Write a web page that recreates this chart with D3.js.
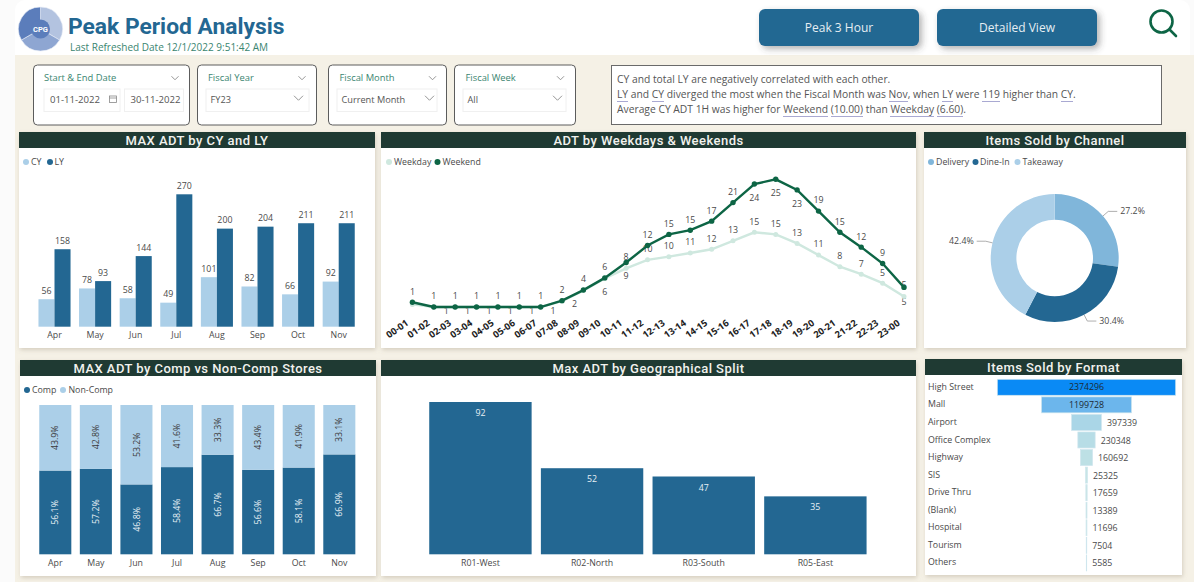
<!DOCTYPE html>
<html>
<head>
<meta charset="utf-8">
<title>Peak Period Analysis</title>
<script src="https://cdn.jsdelivr.net/npm/d3@7"></script>
<style>
    html, body { margin: 0; padding: 0; background: #fff; overflow: hidden; }
    #chart { position: relative; width: 1194px; height: 582px; font-family: "Open Sans", sans-serif; }
    svg { position: absolute; left: 0; top: 0; }
    #insight {
        position: absolute; left: 611px; top: 65px; width: 551px; height: 60px; padding: 6px 0 0 5px; box-sizing: border-box;
        background: #fff; border: 1px solid #6a6a6a; color: #555; font-size: 10.3px; line-height: 15.2px; white-space: nowrap;
    }
    #insight span { border-bottom: 1px solid #a9a9d2; }
</style>
</head>
<body>
<div id="chart"></div>
<script>
const months = ["Apr", "May", "Jun", "Jul", "Aug", "Sep", "Oct", "Nov"];
const cyValues = [56, 78, 58, 49, 101, 82, 66, 92];
const lyValues = [158, 93, 144, 270, 200, 204, 211, 211];

const compShare = [56.1, 57.2, 46.8, 58.4, 66.7, 56.6, 58.1, 66.9];
const nonCompShare = [43.9, 42.8, 53.2, 41.6, 33.3, 43.4, 41.9, 33.1];

const hours = ["00-01", "01-02", "02-03", "03-04", "04-05", "05-06", "06-07", "07-08", "08-09", "09-10", "10-11", "11-12",
    "12-13", "13-14", "14-15", "15-16", "16-17", "17-18", "18-19", "19-20", "20-21", "21-22", "22-23", "23-00"];
// line heights, the printed labels are kept apart because they are rounded differently
const weekendValues = [1.8, 0.9, 0.9, 0.9, 0.9, 0.9, 0.9, 2.1, 4.1, 6.4, 9.3, 12.5, 14.6, 15.4, 17.1, 20.6, 24.1, 25, 23, 19, 15, 12.2, 9.1, 4.6];
const weekdayValues = [1.4, 0.9, 0.9, 0.9, 0.9, 0.9, 0.9, 2, 4, 6.3, 8.2, 9.8, 10.4, 11.1, 11.8, 13.4, 15, 14.6, 12.9, 10.7, 8.5, 7.1, 5.4, 2.9];
const weekendLabels = [1, 1, 1, 1, 1, 1, 1, 2, 4, 6, 8, 12, 15, 15, 17, 21, 24, 25, 23, 19, 15, 12, 9, 5];
const weekdayLabels = [1, 1, 1, 1, 1, 1, 1, 2, 4, 6, 9, 10, 10, 11, 12, 13, 15, 15, 13, 11, 8, 7, 5, 5];

const channels = ["Delivery", "Dine-In", "Takeaway"];
const channelShare = [27.2, 30.4, 42.4];

const regions = ["R01-West", "R02-North", "R03-South", "R05-East"];
const regionValues = [92, 52, 47, 35];

const formats = ["High Street", "Mall", "Airport", "Office Complex", "Highway", "SIS", "Drive Thru", "(Blank)", "Hospital", "Tourism", "Others"];
const formatValues = [2374296, 1199728, 397339, 230348, 160692, 25325, 17659, 13389, 11696, 7504, 5585];

const darkBlue = "#236792";
const lightBlue = "#abcfe8";
const midBlue = "#80b6da";
const headerColor = "#1f3a33";
const weekendColor = "#0d6545";
const weekdayColor = "#cfe8df";
const greenText = "#3a8570";
const labelColor = "#4a4a4a";
const font = "'Open Sans', sans-serif";
const titleFont = "Roboto, sans-serif";

const svg = d3.select("#chart").append("svg")
    .attr("width", 1194)
    .attr("height", 582);

const defs = svg.append("defs");
defs.append("filter").attr("id", "panelShadow")
    .attr("x", "-5%").attr("y", "-5%").attr("width", "110%").attr("height", "110%")
    .append("feDropShadow")
    .attr("dx", 1).attr("dy", 2).attr("stdDeviation", 2)
    .attr("flood-color", "#8a7f68").attr("flood-opacity", 0.3);
defs.append("filter").attr("id", "buttonShadow")
    .attr("x", "-10%").attr("y", "-20%").attr("width", "120%").attr("height", "150%")
    .append("feDropShadow")
    .attr("dx", 3).attr("dy", 3).attr("stdDeviation", 3)
    .attr("flood-color", "#444").attr("flood-opacity", 0.4);

// page background
svg.append("rect").attr("width", 1194).attr("height", 582).attr("fill", "#fbfbfb");
svg.append("rect").attr("x", 15).attr("y", 0).attr("width", 1175).attr("height", 70).attr("rx", 10).attr("fill", "#fff");
svg.append("rect").attr("x", 15).attr("y", 55).attr("width", 1179).attr("height", 527).attr("fill", "#f5f1e6");

/**
 * Writes one text element and hands it back
 */
function addText(parent, x, y, text, size, color, anchor, family) {
    return parent.append("text")
        .attr("x", x)
        .attr("y", y)
        .attr("dy", "0.35em")
        .text(text)
        .style("font-size", size + "px")
        .style("fill", color || labelColor)
        .style("text-anchor", anchor || "start")
        .style("font-family", family || font);
}

/**
 * Draws the white card with its dark title strip
 */
function drawPanel(x, y, w, h, title, stripTop, stripHeight) {
    svg.append("rect").attr("x", x).attr("y", stripTop).attr("width", w).attr("height", h + y - stripTop)
        .attr("fill", "#fff").attr("filter", "url(#panelShadow)");
    svg.append("rect").attr("x", x).attr("y", stripTop).attr("width", w).attr("height", stripHeight)
        .attr("fill", headerColor);
    addText(svg, x + w / 2, stripTop + stripHeight / 2, title, 13, "#f2f2ee", "middle", titleFont)
        .style("font-weight", 500)
        .style("letter-spacing", "0.45px");
}

function drawLegend(items) {
    items.forEach(d => {
        svg.append("circle").attr("cx", d.cx).attr("cy", d.y).attr("r", 3).attr("fill", d.color);
        addText(svg, d.tx, d.y, d.name, 8.8, labelColor);
    });
}

function styleAxis(g, size) {
    g.select(".domain").remove();
    g.selectAll("line").remove();
    g.selectAll("text")
        .style("font-size", size + "px")
        .style("font-family", font)
        .style("fill", labelColor);
}

// ---- header ----
const logo = svg.append("g").attr("transform", "translate(40.5,29)");
const logoArc = d3.arc().innerRadius(0).outerRadius(22);
const logoPie = d3.pie().sort(null)([1, 1, 1]);
logo.selectAll("path").data(logoPie).enter().append("path")
    .attr("d", logoArc)
    .attr("fill", (d, i) => ["#b3c3e0", "#8ea6d2", "#5b7dbb"][i])
    .attr("stroke", "#e8edf6")
    .attr("stroke-width", 0.6);
logo.append("circle").attr("r", 9.5).attr("fill", "#5b7dbb");
addText(logo, 0, 0, "CPG", 7.5, "#fff", "middle", titleFont).style("font-weight", 700);

addText(svg, 68, 26, "Peak Period Analysis", 22.8, darkBlue, "start", titleFont).style("font-weight", 700);
addText(svg, 70, 47, "Last Refreshed Date 12/1/2022 9:51:42 AM", 10, greenText);

[{x: 759, w: 160, label: "Peak 3 Hour"}, {x: 937, w: 160, label: "Detailed View"}].forEach(b => {
    svg.append("rect").attr("x", b.x).attr("y", 9).attr("width", b.w).attr("height", 37).attr("rx", 6)
        .attr("fill", darkBlue).attr("filter", "url(#buttonShadow)");
    addText(svg, b.x + b.w / 2, 28, b.label, 12, "#e6eef3", "middle");
});

// search icon
svg.append("circle").attr("cx", 1161.5).attr("cy", 21.5).attr("r", 11)
    .attr("fill", "none").attr("stroke", weekendColor).attr("stroke-width", 2.6);
svg.append("line").attr("x1", 1169.5).attr("y1", 29.5).attr("x2", 1176).attr("y2", 36)
    .attr("stroke", weekendColor).attr("stroke-width", 2.6).attr("stroke-linecap", "round");

// ---- slicers ----
function chevron(x, y, size, color) {
    svg.append("path")
        .attr("d", d3.line()([[x - size, y - size / 2], [x, y + size / 2], [x + size, y - size / 2]]))
        .attr("fill", "none").attr("stroke", color || "#8a8a8a").attr("stroke-width", 0.9);
}

function drawSlicer(x, w, title, titleX, titleChevron) {
    svg.append("rect").attr("x", x).attr("y", 65).attr("width", w).attr("height", 60).attr("rx", 4)
        .attr("fill", "#fff").attr("stroke", "#5c5c5c").attr("stroke-width", 1);
    addText(svg, titleX, 78, title, 9.4, greenText);
    chevron(titleChevron, 78, 3.5);
}

function drawSlicerInput(x, w, text, chevronX, textSize) {
    svg.append("rect").attr("x", x).attr("y", 89).attr("width", w).attr("height", 22.5)
        .attr("fill", "#fff").attr("stroke", "#f0f0f0");
    addText(svg, x + (textSize ? 6 : 4.5), 100, text, textSize || 9.2, "#555");
    if (chevronX) chevron(chevronX, 98, 4.5);
}

drawSlicer(33.5, 156, "Start & End Date", 44, 175);
drawSlicerInput(44, 76, "01-11-2022", null, 9.6);
drawSlicerInput(124.5, 59, "30-11-2022", null, 9.6);
svg.append("rect").attr("x", 109.5).attr("y", 96).attr("width", 7).attr("height", 6.5)
    .attr("fill", "none").attr("stroke", "#888").attr("stroke-width", 0.8);
svg.append("line").attr("x1", 109.5).attr("x2", 116.5).attr("y1", 98).attr("y2", 98)
    .attr("stroke", "#888").attr("stroke-width", 0.8);

drawSlicer(197.5, 119, "Fiscal Year", 208, 302);
drawSlicerInput(206, 103, "FY23", 298.5);
drawSlicer(328.5, 118, "Fiscal Month", 339.5, 432.5);
drawSlicerInput(337, 100, "Current Month", 429.5);
drawSlicer(454.5, 121, "Fiscal Week", 465.5, 560.5);
drawSlicerInput(463, 103, "All", 557.5);

// insight text box
d3.select("#chart").append("div").attr("id", "insight").html(
    "CY and total LY are negatively correlated with each other.<br>" +
    "<span>LY</span> and <span>CY</span> diverged the most when the Fiscal Month was <span>Nov</span>, when <span>LY</span> were <span>119</span> higher than <span>CY</span>.<br>" +
    "Average CY ADT 1H was higher for <span>Weekend</span> <span>(10.00)</span> than <span>Weekday</span> <span>(6.60)</span>."
);

// ---- panels ----
drawPanel(19, 148, 356, 200, "MAX ADT by CY and LY", 132, 16);
drawPanel(381, 148, 535, 200, "ADT by Weekdays & Weekends", 132, 16);
drawPanel(924, 148, 262, 200, "Items Sold by Channel", 132, 16);
drawPanel(20, 376, 356, 200, "MAX ADT by Comp vs Non-Comp Stores", 360, 16);
drawPanel(381, 376, 535, 200, "Max ADT by Geographical Split", 360, 16);
drawPanel(925, 375, 257, 200, "Items Sold by Format", 359, 16);

// ---- MAX ADT by CY and LY ----
const monthX = d3.scaleBand().domain(months).range([34.2, 359]).paddingInner(0.21).paddingOuter(0.105);
const adtY = d3.scaleLinear().domain([0, 270]).range([326.7, 194.3]);
const halfBar = monthX.bandwidth() / 2;

drawLegend([
    {cx: 26, tx: 31, y: 162, name: "CY", color: lightBlue},
    {cx: 50, tx: 54.5, y: 162, name: "LY", color: darkBlue}
]);

[{values: cyValues, color: lightBlue, offset: 0}, {values: lyValues, color: darkBlue, offset: halfBar}].forEach(s => {
    svg.append("g").selectAll("rect").data(months).enter().append("rect")
        .attr("x", d => monthX(d) + s.offset)
        .attr("y", (d, i) => adtY(s.values[i]))
        .attr("width", halfBar)
        .attr("height", (d, i) => adtY(0) - adtY(s.values[i]))
        .attr("fill", s.color);
    months.forEach((m, i) => {
        addText(svg, monthX(m) + s.offset + halfBar / 2, adtY(s.values[i]) - 8.5, s.values[i], 8.8, labelColor, "middle");
    });
});

svg.append("g").attr("transform", "translate(0,326.7)")
    .call(d3.axisBottom(monthX).tickSize(0).tickPadding(5))
    .call(g => styleAxis(g, 8.8));

// ---- ADT by Weekdays & Weekends ----
const hourX = d3.scalePoint().domain(hours).range([412.4, 904]);
const hourY = d3.scaleLinear().domain([0, 25]).range([311.8, 179.3]);
const hourLine = d3.line().x((d, i) => hourX(hours[i])).y(d => hourY(d));

drawLegend([
    {cx: 389, tx: 394, y: 162, name: "Weekday", color: weekdayColor},
    {cx: 437.5, tx: 442.5, y: 162, name: "Weekend", color: weekendColor}
]);

svg.append("g").attr("transform", "translate(-3,317)")
    .call(d3.axisBottom(hourX).tickSize(0).tickPadding(0))
    .call(g => styleAxis(g, 9.4))
    .selectAll("text")
    .style("font-weight", 700)
    .style("fill", "#222")
    .style("text-anchor", "end")
    .attr("y", 0)
    .attr("x", 0)
    .attr("dx", "-5px")
    .attr("dy", "0.6em")
    .attr("transform", "rotate(-35)");

// weekday labels sit below on the flat start, above on the body of the curve
function weekdayLabelPos(i) {
    const y = hourY(weekdayValues[i]);
    if (i === 0 || i === 8) return null;
    if (i <= 7) return [hourX(hours[i]) + 12.4, y + (i === 7 ? 3 : 4)];
    if (i === 9) return [hourX(hours[i]), y + 14];
    if (i === 10) return [hourX(hours[i]), y + 8];
    if (i === 23) return [hourX(hours[i]), y + 5];
    return [hourX(hours[i]), y - 10.7];
}

hours.forEach((h, i) => {
    const pos = weekdayLabelPos(i);
    if (pos) addText(svg, pos[0], pos[1], weekdayLabels[i], 8.8, labelColor, "middle");
});

svg.append("path").datum(weekdayValues)
    .attr("d", hourLine).attr("fill", "none").attr("stroke", weekdayColor).attr("stroke-width", 2.4);
svg.append("g").selectAll("circle").data(weekdayValues).enter().append("circle")
    .attr("cx", (d, i) => hourX(hours[i])).attr("cy", d => hourY(d)).attr("r", 2.5).attr("fill", weekdayColor);

function weekendLabelOffset(i) {
    if (i >= 16 && i <= 18) return 14;
    if (i === 10) return -5.3;
    if (i === 23) return -2.7;
    return -10.7;
}

hours.forEach((h, i) => {
    addText(svg, hourX(h), hourY(weekendValues[i]) + weekendLabelOffset(i), weekendLabels[i], 8.8, labelColor, "middle");
});

svg.append("path").datum(weekendValues)
    .attr("d", hourLine).attr("fill", "none").attr("stroke", weekendColor).attr("stroke-width", 2.4);
svg.append("g").selectAll("circle").data(weekendValues).enter().append("circle")
    .attr("cx", (d, i) => hourX(hours[i])).attr("cy", d => hourY(d)).attr("r", 2.7).attr("fill", weekendColor);

// ---- Items Sold by Channel ----
drawLegend([
    {cx: 931, tx: 936, y: 162, name: channels[0], color: midBlue},
    {cx: 975.5, tx: 980, y: 162, name: channels[1], color: darkBlue},
    {cx: 1017.5, tx: 1022.5, y: 162, name: channels[2], color: lightBlue}
]);

const donut = svg.append("g").attr("transform", "translate(1054.7,258)");
const channelColor = d3.scaleOrdinal().domain(channels).range([midBlue, darkBlue, lightBlue]);
const pie = d3.pie().sort(null)(channelShare);
const donutArc = d3.arc().innerRadius(38.3).outerRadius(64);
donut.selectAll("path").data(pie).enter().append("path")
    .attr("d", donutArc)
    .attr("fill", (d, i) => channelColor(channels[i]));

const leaderInner = d3.arc().innerRadius(64).outerRadius(64);
const leaderElbow = d3.arc().innerRadius(71).outerRadius(71);
pie.forEach(d => {
    const a = leaderInner.centroid(d);
    const b = leaderElbow.centroid(d);
    const right = a[0] > 0;
    const c = [b[0] + (right ? 9 : -9), b[1]];
    donut.append("path")
        .attr("d", d3.line()([a, b, c]))
        .attr("fill", "none").attr("stroke", "#999").attr("stroke-width", 0.8);
    addText(donut, c[0] + (right ? 3 : -3), c[1], d.value.toFixed(1) + "%", 8.8, labelColor, right ? "start" : "end");
});

// ---- MAX ADT by Comp vs Non-Comp Stores ----
drawLegend([
    {cx: 27, tx: 32, y: 390, name: "Comp", color: darkBlue},
    {cx: 63, tx: 68.5, y: 390, name: "Non-Comp", color: lightBlue}
]);

const stackX = d3.scaleBand().domain(months).range([35, 359.6]).paddingInner(0.21).paddingOuter(0.105);
const shareY = d3.scaleLinear().domain([0, 100]).range([554.3, 405]);
const shareRows = months.map((m, i) => ({month: m, comp: compShare[i], nonComp: nonCompShare[i]}));
const stacked = d3.stack().keys(["comp", "nonComp"])(shareRows);
const stackColor = {comp: darkBlue, nonComp: lightBlue};

stacked.forEach(layer => {
    svg.append("g").selectAll("rect").data(layer).enter().append("rect")
        .attr("x", d => stackX(d.data.month))
        .attr("y", d => shareY(d[1]))
        .attr("width", stackX.bandwidth())
        .attr("height", d => shareY(d[0]) - shareY(d[1]))
        .attr("fill", stackColor[layer.key]);
    layer.forEach(d => {
        const cx = stackX(d.data.month) + stackX.bandwidth() / 2;
        const cy = shareY((d[0] + d[1]) / 2);
        addText(svg, cx, cy, d.data[layer.key].toFixed(1) + "%", 8.8, layer.key === "comp" ? "#e8f0f5" : "#3c3c3c", "middle")
            .attr("transform", `rotate(-90,${cx},${cy})`);
    });
});

svg.append("g").attr("transform", "translate(0,554.3)")
    .call(d3.axisBottom(stackX).tickSize(0).tickPadding(5))
    .call(g => styleAxis(g, 8.8));

// ---- Max ADT by Geographical Split ----
const regionX = d3.scaleBand().domain(regions).range([424.6, 871.2]).paddingInner(0.083).paddingOuter(0.0415);
const regionY = d3.scaleLinear().domain([0, 92]).range([554.3, 402]);

svg.append("g").selectAll("rect").data(regionValues).enter().append("rect")
    .attr("x", (d, i) => regionX(regions[i]))
    .attr("y", d => regionY(d))
    .attr("width", regionX.bandwidth())
    .attr("height", d => regionY(0) - regionY(d))
    .attr("fill", darkBlue);
regionValues.forEach((d, i) => {
    addText(svg, regionX(regions[i]) + regionX.bandwidth() / 2, regionY(d) + 11, d, 8.8, "#e8f0f5", "middle");
});

svg.append("g").attr("transform", "translate(0,554.3)")
    .call(d3.axisBottom(regionX).tickSize(0).tickPadding(5))
    .call(g => styleAxis(g, 8.8));

// ---- Items Sold by Format ----
const formatY = d3.scaleBand().domain(formats).range([378.5, 571.7]).paddingInner(0.09).paddingOuter(0.045);
const formatWidth = d3.scaleLinear().domain([0, formatValues[0]]).range([0, 178.4]);
const formatColor = d3.scaleLinear().domain([0, 1199728, 2374296]).range(["#c9e6e4", "#6cb6ec", "#0a8af5"]);
const funnelCenter = 1086.5;

svg.append("g").selectAll("rect").data(formatValues).enter().append("rect")
    .attr("x", d => funnelCenter - formatWidth(d) / 2)
    .attr("y", (d, i) => formatY(formats[i]))
    .attr("width", d => formatWidth(d))
    .attr("height", formatY.bandwidth())
    .attr("fill", d => formatColor(d))
    .attr("stroke", "#cfe6ee")
    .attr("stroke-width", 0.7);

formats.forEach((f, i) => {
    const cy = formatY(f) + formatY.bandwidth() / 2;
    const w = formatWidth(formatValues[i]);
    addText(svg, 928, cy - 0.5, f, 8.8, labelColor);
    if (i < 2) addText(svg, funnelCenter, cy, formatValues[i], 8.8, "#1c2a36", "middle");
    else addText(svg, funnelCenter + w / 2 + 5.5, cy + 0.5, formatValues[i], 8.8, labelColor);
});
</script>
</body>
</html>
